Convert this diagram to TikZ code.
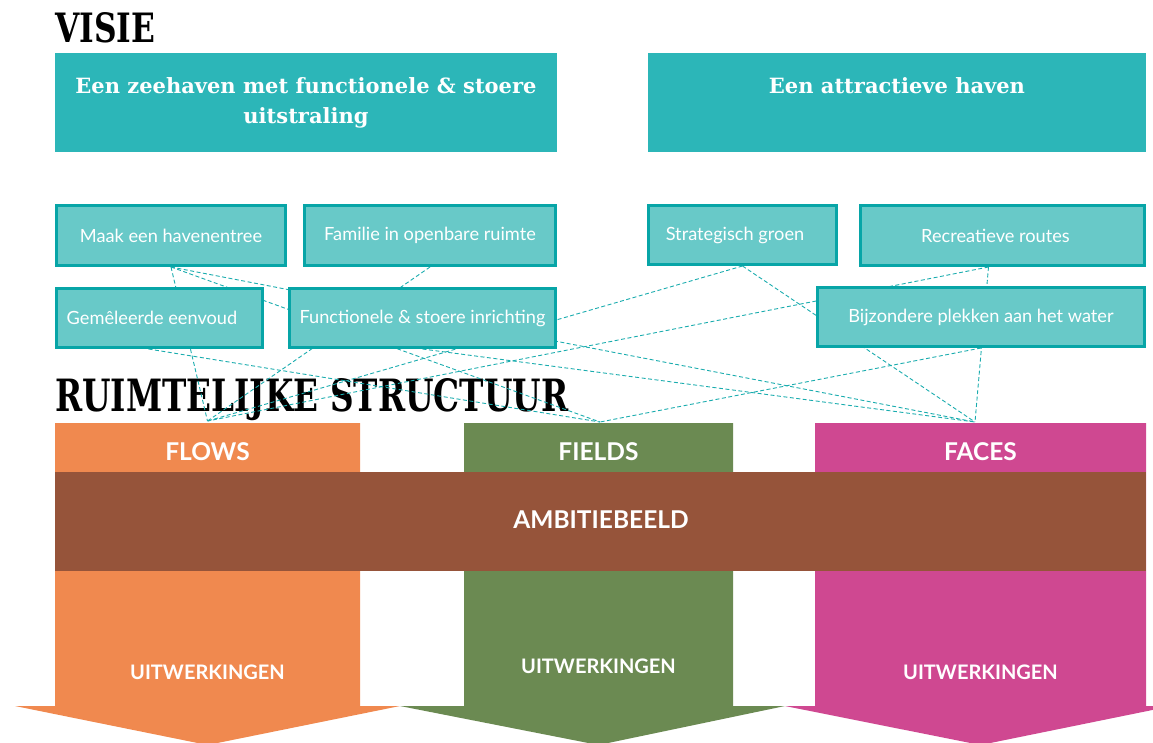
\documentclass[tikz,border=0pt]{standalone}
\usepackage{fontspec}
\setmainfont{Lato}
\newfontfamily\slab{DejaVu Serif}
\usetikzlibrary{calc}
\pgfdeclarelayer{bg}
\pgfsetlayers{bg,main}
\definecolor{topteal}{HTML}{2CB6B8}
\definecolor{subfill}{HTML}{68C9C8}
\definecolor{subborder}{HTML}{07A5A7}
\definecolor{linkcol}{HTML}{1AACAE}
\definecolor{flowscol}{HTML}{F0894F}
\definecolor{fieldscol}{HTML}{6B8A52}
\definecolor{facescol}{HTML}{CF4891}
\definecolor{ambcol}{HTML}{96543A}
\begin{document}
\begin{tikzpicture}[x=1pt,y=-1pt,
  topbox/.style={fill=topteal, text=white, inner sep=0pt, align=center,
    font=\slab\bfseries\fontsize{21}{30}\selectfont},
  subbox/.style={draw=subborder, line width=3pt, fill=subfill, text=white,
    inner sep=0pt, font=\fontsize{18.2}{21}\selectfont},
  link/.style={draw=linkcol, line width=0.9pt, dash pattern=on 4pt off 2.5pt},
  hdr/.style={text=white, inner sep=0pt, font=\bfseries\fontsize{24.5}{28}\selectfont},
  uitw/.style={text=white, inner sep=0pt, font=\bfseries\fontsize{20}{23}\selectfont},
  title/.style={anchor=north west, inner sep=0pt}]
\useasboundingbox (0,0) rectangle (1153,742);

% titles
\node[title] (visie) at (55,12) {\resizebox{100pt}{30pt}{\slab\bfseries VISIE}};

% vision boxes
\node[topbox, minimum width=502pt, minimum height=99pt] (vis1) at (306,102.5)
  {Een zeehaven met functionele \& stoere\\uitstraling};
\node[topbox, minimum width=498pt, minimum height=99pt] (vis2) at (897,102.5)
  {Een attractieve haven\\\phantom{uitstraling}};

% columns with chevrons
\begin{scope}
\clip (0,0) rectangle (1153,742);
\fill[flowscol] (55,423) -- (360,423) -- (360,706) -- (400,706) -- (207.5,745) -- (15,706) -- (55,706) -- cycle;
\fill[fieldscol] (464,423) -- (733,423) -- (733,706) -- (785,706) -- (598.5,745) -- (400,706) -- (464,706) -- cycle;
\fill[facescol] (815,423) -- (1146,423) -- (1146,706) -- (1172,706) -- (980.5,745) -- (785,706) -- (815,706) -- cycle;
\end{scope}
\fill[ambcol] (55,472) rectangle (1146,571);

\node[hdr] (flowsT) at (207.5,452) {FLOWS};
\node[hdr] (fieldsT) at (598.5,452) {FIELDS};
\node[hdr] (facesT) at (980.5,452) {FACES};
\node[hdr] (amb) at (601,520) {AMBITIEBEELD};
\node[uitw] (u1) at (207.5,672) {UITWERKINGEN};
\node[uitw] (u2) at (598.5,666) {UITWERKINGEN};
\node[uitw] (u3) at (980.5,672) {UITWERKINGEN};

\coordinate (flows) at (207.5,421);
\coordinate (fields) at (600,422);
\coordinate (faces) at (975,422);

% theme boxes
\node[subbox, minimum width=229pt, minimum height=60pt] (maak) at (171,235.5) {Maak een havenentree};
\node[subbox, minimum width=251pt, minimum height=60pt] (fam) at (430,235.5) {Familie in openbare ruimte};
\node[subbox, minimum width=206pt, minimum height=59pt] (gem) at (159.5,318) {Gemêleerde eenvoud\hspace*{15pt}};
\node[subbox, minimum width=266pt, minimum height=59pt] (func) at (422.5,318) {Functionele \& stoere inrichting};
\node[subbox, minimum width=188pt, minimum height=59pt] (strat) at (742.5,235) {Strategisch groen\hspace*{15pt}};
\node[subbox, minimum width=284pt, minimum height=60pt] (recr) at (1002.5,235.5) {Recreatieve routes\hspace*{14pt}};
\node[subbox, minimum width=327pt, minimum height=59pt] (bijz) at (981,317) {Bijzondere plekken aan het water};

\begin{pgfonlayer}{bg}
\node[title] (rs) at (55,378) {\resizebox{513pt}{33pt}{\slab\bfseries RUIMTELIJKE STRUCTUUR}};
\draw[link] (maak.south) -- (flows);
\draw[link] (maak.south) -- (fields);
\draw[link] (maak.south) -- (faces);
\draw[link] (fam.south) -- (flows);
\draw[link] ([xshift=-11pt]gem.south) -- (fields);
\draw[link] (func.south) -- (faces);
\draw[link] (strat.south) -- (flows);
\draw[link] (strat.south) -- (faces);
\draw[link] ([xshift=-14pt]recr.south) -- (flows);
\draw[link] ([xshift=-14pt]recr.south) -- (faces);
\draw[link] (bijz.south) -- (fields);
\end{pgfonlayer}
\end{tikzpicture}
\end{document}
